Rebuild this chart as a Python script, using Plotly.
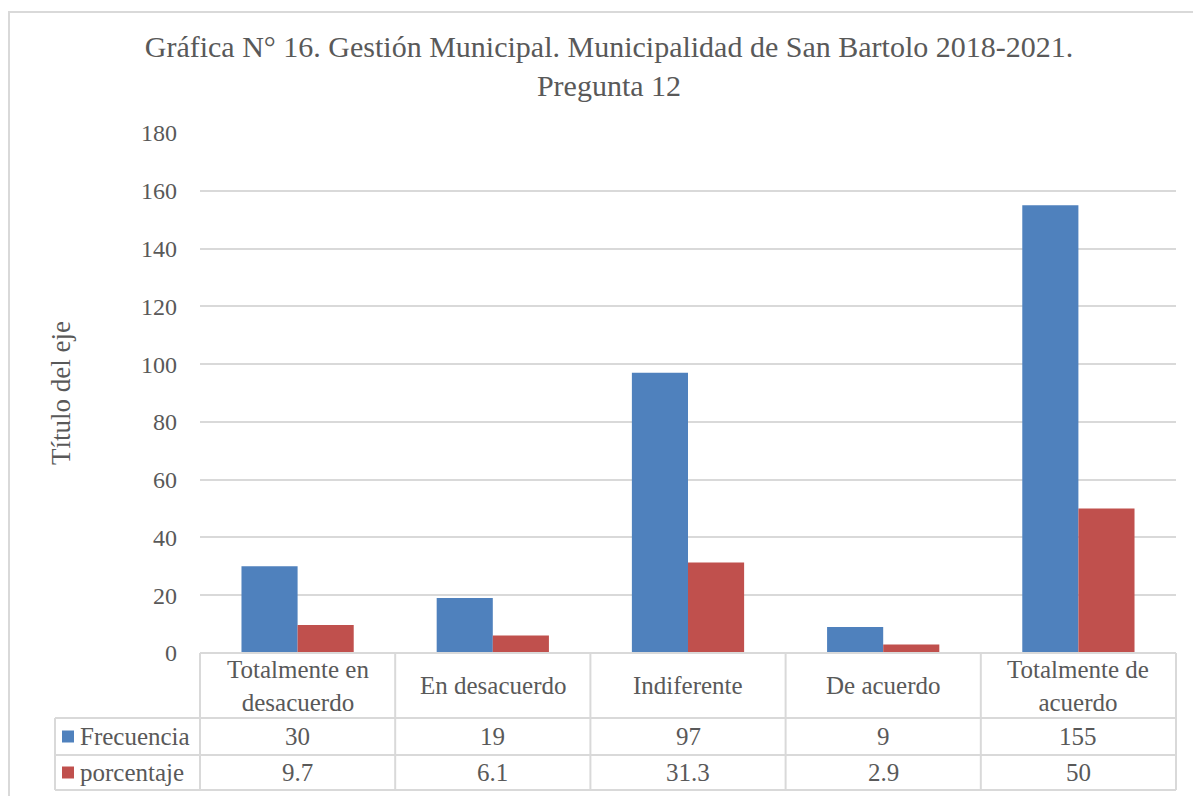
import plotly.graph_objects as go

categories = ["Totalmente en<br>desacuerdo", "En desacuerdo", "Indiferente", "De acuerdo", "Totalmente de<br>acuerdo"]
frecuencia = [30, 19, 97, 9, 155]
porcentaje = [9.7, 6.1, 31.3, 2.9, 50]
series_names = ["Frecuencia", "porcentaje"]
series_colors = ["#4F81BD", "#C0504D"]
y_ticks = [0, 20, 40, 60, 80, 100, 120, 140, 160, 180]

W, H = 1193, 796
L, R, T, B = 200, 1176, 133, 653
PW, PH = R - L, B - T
FONT = "Liberation Serif"
TXT = "#595959"
GRID = "#D9D9D9"
TABLE_FS = 25

def px(xp):
    return (xp - L) / PW

def py(yp):
    return (B - yp) / PH

fig = go.Figure()
xs = list(range(len(categories)))
for name, vals, col in zip(series_names, [frecuencia, porcentaje], series_colors):
    fig.add_trace(go.Bar(x=xs, y=vals, name=name, marker=dict(color=col, line=dict(width=0)),
                         showlegend=False))

shapes = []
line = dict(color=GRID, width=2)
# outer chart border
shapes.append(dict(type="rect", xref="paper", yref="paper", x0=px(9), x1=px(W + 20),
                   y0=py(H + 20), y1=py(12), line=dict(color=GRID, width=2), layer="below"))
# table rows
row_tops = [653, 718, 755, 790]
shapes.append(dict(type="line", xref="paper", yref="paper", x0=0, x1=1, y0=py(row_tops[0]), y1=py(row_tops[0]), line=line))
for yy in row_tops[1:]:
    shapes.append(dict(type="line", xref="paper", yref="paper", x0=px(55), x1=1, y0=py(yy), y1=py(yy), line=line))
# table columns
n = len(categories)
for k in range(n + 1):
    shapes.append(dict(type="line", xref="paper", yref="paper", x0=k / n, x1=k / n,
                       y0=py(row_tops[0]), y1=py(row_tops[-1]), line=line))
shapes.append(dict(type="line", xref="paper", yref="paper", x0=px(55), x1=px(55),
                   y0=py(row_tops[1]), y1=py(row_tops[-1]), line=line))

annotations = []
# category labels
for i, c in enumerate(categories):
    annotations.append(dict(x=i, xref="x", y=py((row_tops[0] + row_tops[1]) / 2), yref="paper",
                            text=c, showarrow=False, font=dict(family=FONT, size=TABLE_FS, color=TXT),
                            xanchor="center", yanchor="middle"))
# data rows
for r, (name, vals, col) in enumerate(zip(series_names, [frecuencia, porcentaje], series_colors)):
    yc = (row_tops[r + 1] + row_tops[r + 2]) / 2
    shapes.append(dict(type="rect", xref="paper", yref="paper", x0=px(62), x1=px(74),
                       y0=py(yc + 6), y1=py(yc - 6), fillcolor=col, line=dict(width=0)))
    annotations.append(dict(x=px(78), xref="paper", y=py(yc), yref="paper", text=name,
                            showarrow=False, xanchor="left", yanchor="middle",
                            font=dict(family=FONT, size=TABLE_FS, color=TXT)))
    for i, v in enumerate(vals):
        annotations.append(dict(x=i, xref="x", y=py(yc), yref="paper", text=f"{v:g}",
                                showarrow=False, xanchor="center", yanchor="middle",
                                font=dict(family=FONT, size=TABLE_FS, color=TXT)))
# y axis title
annotations.append(dict(x=px(61), xref="paper", y=0.5, yref="paper", text="Título del eje",
                        textangle=-90, showarrow=False, xanchor="center", yanchor="middle",
                        font=dict(family=FONT, size=27, color=TXT)))

fig.update_layout(
    width=W, height=H,
    margin=dict(l=L, r=W - R, t=T, b=H - B, autoexpand=False),
    paper_bgcolor="white", plot_bgcolor="white",
    barmode="group", bargap=0.425, bargroupgap=0,
    title=dict(text="Gráfica N° 16. Gestión Municipal. Municipalidad de San Bartolo 2018-2021.<br>Pregunta 12",
               x=609 / W, xanchor="center", xref="container",
               y=1 - 57 / H, yanchor="middle", yref="container",
               font=dict(family=FONT, size=30, color=TXT)),
    xaxis=dict(range=[-0.5, n - 0.5], showticklabels=False, showgrid=False, zeroline=False,
               showline=False, ticks=""),
    yaxis=dict(range=[0, 180], tickvals=y_ticks, showgrid=True, gridcolor=GRID, gridwidth=2,
               zeroline=False, showline=False, ticks="", ticklabelstandoff=22,
               tickfont=dict(family=FONT, size=24, color=TXT)),
    shapes=shapes, annotations=annotations,
)

fig.write_html("out.html", config={"displayModeBar": False},
               post_script="document.body.style.margin='0';document.body.style.overflow='hidden';")
